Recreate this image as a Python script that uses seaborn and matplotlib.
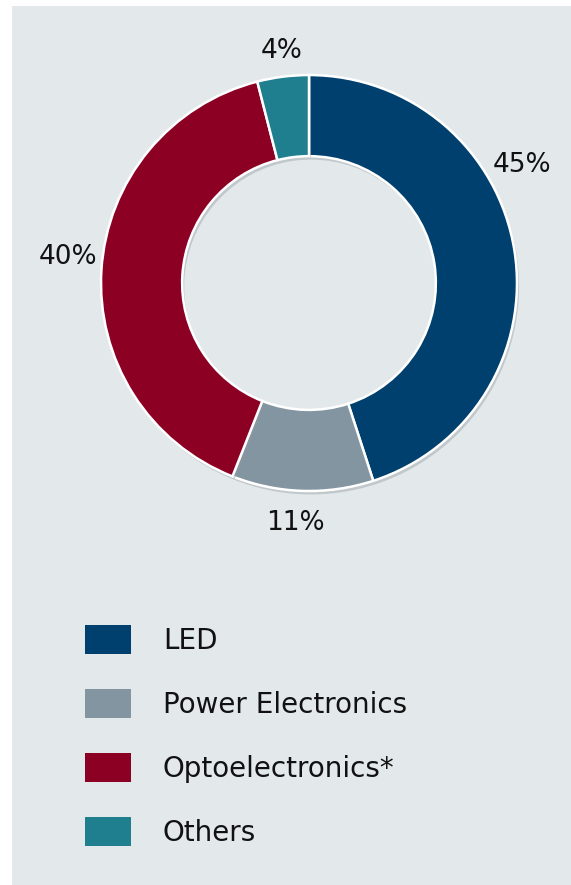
import matplotlib.pyplot as plt
import matplotlib.patheffects as pe
import numpy as np
import seaborn as sns
from matplotlib.patches import Patch, Rectangle

segments = ['LED', 'Power Electronics', 'Optoelectronics*', 'Others']
shares = [45, 11, 40, 4]
colors = ['#00406e', '#8495a2', '#8c0024', '#207f8f']
# extra rotation (deg) and radius for the percentage labels
label_shift = [20, -1.5, -2.5, -0.6]
label_radius = [1.17, 1.155, 1.165, 1.125]

sns.set_theme(style='white')
plt.rcParams['font.family'] = ['DejaVu Sans']
text_color = '#111111'
bg = '#e3e8eb'

fig = plt.figure(figsize=(5.71, 8.85), dpi=100)
fig.patch.set_facecolor('white')
fig.patches.append(Rectangle((12 / 571, 0), 1, 1 - 6 / 885, transform=fig.transFigure,
                             facecolor=bg, edgecolor='none', zorder=-5))

ax = fig.add_axes([0.1769, 0.4452, 0.7285, 0.470])
ax.set_zorder(2)
ax.set_facecolor('none')

wedges, _ = ax.pie(
    shares,
    colors=colors,
    startangle=90,
    counterclock=False,
    radius=1.0,
    wedgeprops=dict(width=0.39, edgecolor='white', linewidth=1.8),
)
for w in wedges:
    w.set_path_effects([pe.SimplePatchShadow(offset=(1.5, -2.5), shadow_rgbFace='#8f999f', alpha=0.4),
                        pe.Normal()])

# percentage labels outside the ring
total = sum(shares)
start = 90.0
for share, shift, r in zip(shares, label_shift, label_radius):
    sweep = 360.0 * share / total
    mid = np.deg2rad(start - sweep / 2 + shift)
    ax.text(r * np.cos(mid), r * np.sin(mid), f'{share}%', ha='center', va='center',
            fontsize=19, color=text_color)
    start -= sweep

ax.set_xlim(-1, 1)
ax.set_ylim(-1, 1)
ax.set_aspect('equal')
ax.axis('off')

handles = [Patch(facecolor=c, edgecolor='none') for c in colors]
leg = fig.legend(
    handles, segments,
    loc='upper left', bbox_to_anchor=(85 / 571, 1 - 625 / 885),
    frameon=False, fontsize=20, borderpad=0, borderaxespad=0,
    handlelength=1.65, handleheight=1.22, handletextpad=1.15, labelspacing=1.23,
    labelcolor=text_color,
)
leg.set_zorder(3)

fig.savefig('out.png', dpi=100)
